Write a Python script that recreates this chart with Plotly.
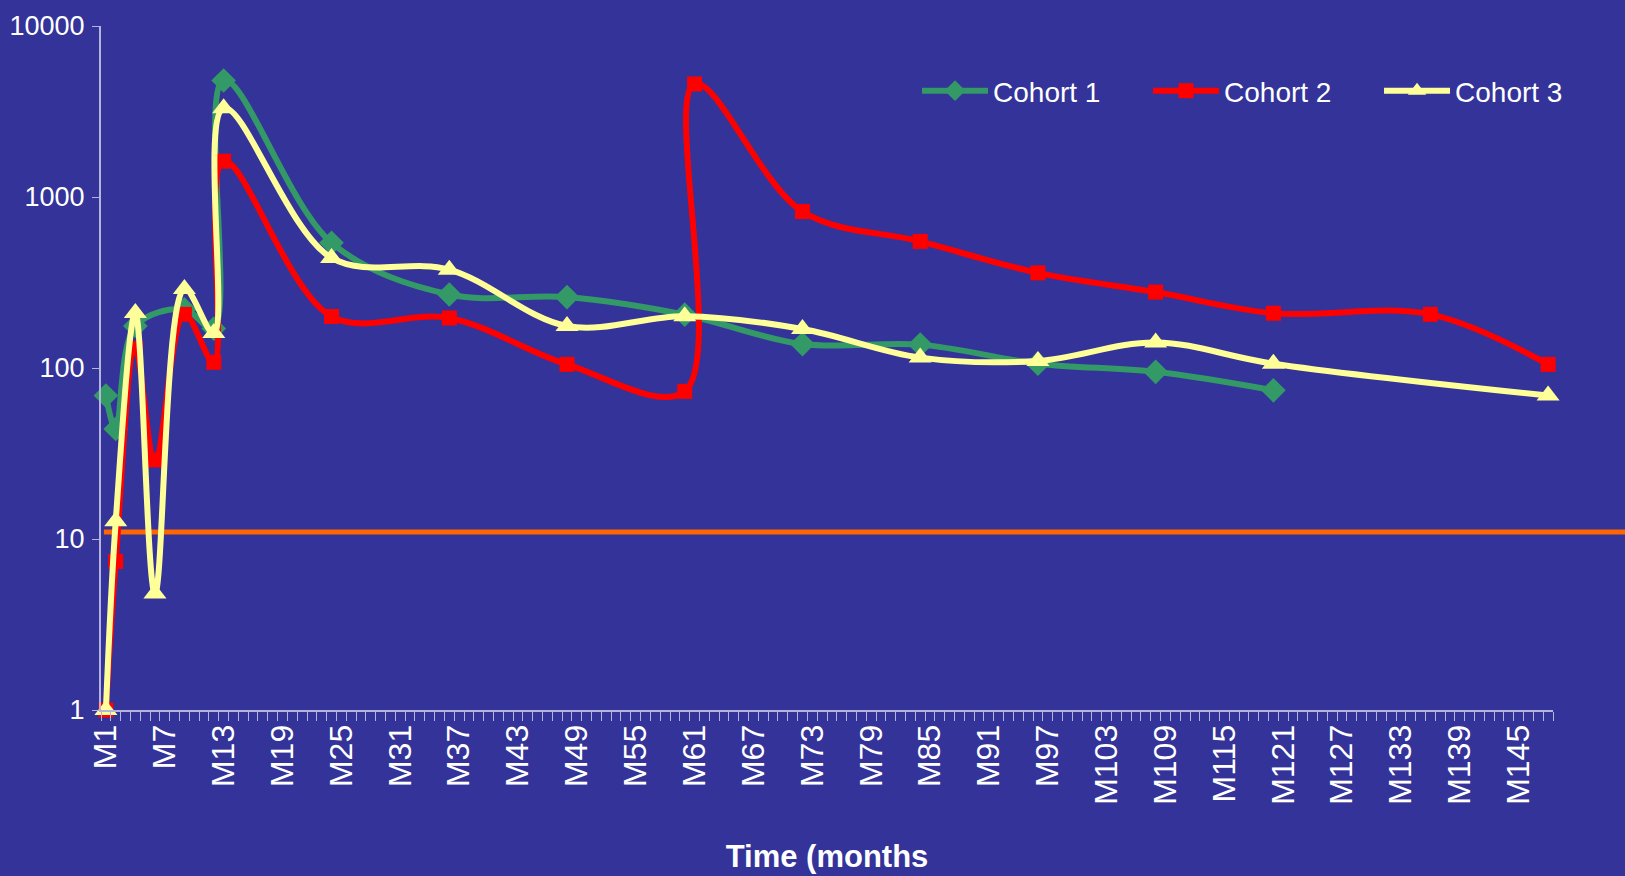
import plotly.graph_objects as go

# ---------------- data ----------------
MONTH_LABELS = [f"M{i}" for i in range(1, 149)]
TICK_MONTHS = list(range(1, 149, 6))

C1_MONTHS = [1, 2, 4, 9, 12, 13, 24, 36, 48, 60, 72, 84, 96, 108, 120]
C1_VALUES = [69, 44, 176, 220, 170, 4800, 540, 269, 260, 205, 138, 137, 106, 95, 74]

C2_MONTHS = [1, 2, 4, 6, 9, 12, 13, 24, 36, 48, 60, 61, 72, 84, 96, 108, 120, 136, 148]
C2_VALUES = [1, 7.4, 130, 29, 206, 108, 1620, 200, 196, 105, 73, 4580, 822, 550, 360, 278, 209, 206, 105]

C3_MONTHS = [1, 2, 4, 6, 9, 12, 13, 24, 36, 48, 60, 72, 84, 96, 108, 120, 148]
C3_VALUES = [1, 12.7, 210, 4.8, 290, 160, 3300, 440, 376, 176, 201, 169, 115, 110, 141, 106, 69]

THRESHOLD = 11
Y_TICKS = [1, 10, 100, 1000, 10000]

# ---------------- style ----------------
BG = "#333399"
AXIS = "#B4B4DC"
FONT = "Liberation Sans, Arial, sans-serif"

fig = go.Figure()

series = [
    ("Cohort 1", C1_MONTHS, C1_VALUES, "#339966", "diamond", 19),
    ("Cohort 2", C2_MONTHS, C2_VALUES, "#FF0000", "square", 15),
    ("Cohort 3", C3_MONTHS, C3_VALUES, "#FFFF99", "triangle-up", 20),
]
for name, xs, ys, col, sym, ms in series:
    fig.add_trace(go.Scatter(
        x=xs, y=ys, name=name, mode="lines+markers",
        line=dict(color=col, width=6, shape="spline", smoothing=1.0),
        marker=dict(symbol=sym, size=ms, color=col),
        cliponaxis=False,
    ))

fig.add_shape(
    type="line", xref="paper", yref="y",
    x0=0.002, x1=1.06, y0=THRESHOLD, y1=THRESHOLD,
    line=dict(color="#FF6600", width=5), layer="below",
)

fig.update_layout(
    width=1625, height=876,
    paper_bgcolor=BG, plot_bgcolor=BG,
    margin=dict(l=101, r=72, t=26, b=166),
    showlegend=True,
    legend=dict(
        orientation="h", x=0.562, xanchor="left", y=0.905, yanchor="middle",
        font=dict(family=FONT, size=28, color="white"),
        bgcolor="rgba(0,0,0,0)", itemwidth=66,
        entrywidth=150, entrywidthmode="pixels",
    ),
    xaxis=dict(
        range=[0.5, 148.5], showgrid=False, zeroline=False, automargin=False,
        showline=True, linecolor=AXIS, linewidth=2,
        tickmode="array", tickvals=TICK_MONTHS,
        ticktext=[MONTH_LABELS[m - 1] for m in TICK_MONTHS],
        tickangle=-90, ticks="",
        tickfont=dict(family=FONT, size=32, color="white"),
        minor=dict(ticks="outside", tick0=0.5, dtick=1, ticklen=9,
                   tickcolor=AXIS, tickwidth=1),
        title=dict(text="Time (months", standoff=41,
                   font=dict(family=FONT, size=31, color="white", weight="bold")),
    ),
    yaxis=dict(
        type="log", range=[0, 4], showgrid=False, zeroline=False, automargin=False,
        showline=True, linecolor=AXIS, linewidth=2,
        tickmode="array", tickvals=Y_TICKS, ticktext=[str(v) for v in Y_TICKS],
        ticks="outside", ticklen=7, tickcolor=AXIS, ticklabelstandoff=2,
        tickfont=dict(family=FONT, size=27, color="white"),
    ),
)

fig.write_html("out.html", config={"displayModeBar": False},
               post_script="document.body.style.margin='0';")
